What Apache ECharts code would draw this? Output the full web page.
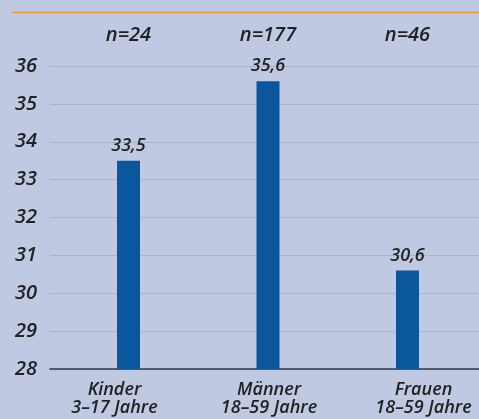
<!DOCTYPE html>
<html><head><meta charset="utf-8">
<script src="https://cdn.jsdelivr.net/npm/echarts@6/dist/echarts.min.js"></script>
<style>html,body{margin:0;padding:0;background:#bfc9e1}#c{width:479px;height:419px}</style>
</head><body><div id="c"></div>
<script>
const categories = ['Kinder\n3–17 Jahre', 'Männer\n18–59 Jahre', 'Frauen\n18–59 Jahre'];
const sampleSizes = ['n=24', 'n=177', 'n=46'];
const values = [33.5, 35.6, 30.6];
const yTicks = [28, 29, 30, 31, 32, 33, 34, 35, 36];

const FONT = '"Open Sans", Lato, sans-serif';
const chart = echarts.init(document.getElementById('c'));
const yMin = yTicks[0], yMax = yTicks[yTicks.length - 1];
chart.setOption({
  backgroundColor: '#bfc9e1',
  animation: false,
  graphic: [{
    type: 'line', shape: { x1: 12, y1: 12.5, x2: 479, y2: 12.5 },
    style: { stroke: '#f4943a', lineWidth: 1.6 }
  }],
  grid: [
    { left: 50, right: 0, top: 66, bottom: 50 },
    { left: 58.75, right: 1.75, top: 66, bottom: 50 },
    { left: 114.5, right: 55.5, top: 66, bottom: 50 }
  ],
  xAxis: [
    { gridIndex: 0, type: 'value', min: 0, max: 1, show: true,
      axisLine: { show: true, onZero: false, lineStyle: { color: '#333844', width: 1.5 } },
      axisTick: { show: false }, axisLabel: { show: false }, splitLine: { show: false } },
    { gridIndex: 1, type: 'category', data: sampleSizes, position: 'top', offset: 21,
      axisLine: { show: false }, axisTick: { show: false },
      axisLabel: { color: '#222', fontFamily: FONT, fontStyle: 'italic', fontWeight: 600,
        fontSize: 20, margin: 0 } },
    { gridIndex: 2, type: 'category', data: categories, boundaryGap: false,
      axisLine: { show: false }, axisTick: { show: false },
      axisLabel: { color: '#222', fontFamily: FONT, fontStyle: 'italic', fontWeight: 600,
        fontSize: 18, lineHeight: 18, margin: 12, interval: 0 } }
  ],
  yAxis: [
    { gridIndex: 0, type: 'value', min: yMin, max: yMax, interval: 1,
      axisLine: { show: false }, axisTick: { show: false },
      axisLabel: { color: '#222', fontFamily: FONT, fontStyle: 'italic', fontWeight: 600,
        fontSize: 20, margin: 13 },
      splitLine: { show: true, lineStyle: { color: '#adb3c2', width: 1 } } },
    { gridIndex: 1, type: 'value', min: yMin, max: yMax, show: false },
    { gridIndex: 2, type: 'value', min: yMin, max: yMax, show: false }
  ],
  series: [{
    type: 'bar', xAxisIndex: 1, yAxisIndex: 1, data: values, barWidth: 23,
    itemStyle: { color: '#0a579e' },
    label: { show: true, position: 'top', distance: 6, color: '#222', fontFamily: FONT,
      fontStyle: 'italic', fontWeight: 600, fontSize: 18,
      formatter: p => String(p.value).replace('.', ',') }
  }]
});
</script></body></html>
